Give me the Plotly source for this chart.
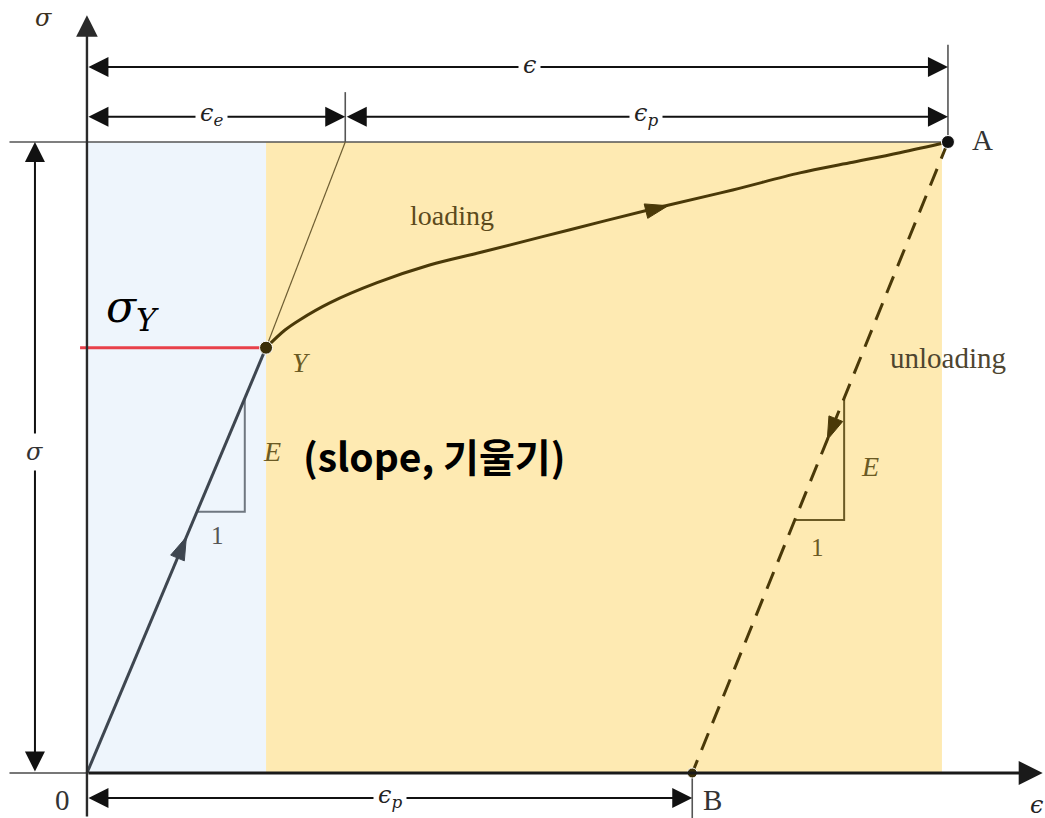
import plotly.graph_objects as go

# Schematic stress-strain path, normalised so that point A sits at (1, 1)
eps_Y, sig_Y = 0.208, 0.674        # yield point Y
eps_A, sig_A = 1.0, 1.0            # end of loading, point A
eps_B = 0.703                      # permanent strain left after unloading, point B
eps_e_top = 0.300                  # where the elastic line would reach sig_A

# strain-hardening curve from Y to A
load_eps = [0.208, 0.230, 0.247, 0.282, 0.337, 0.398, 0.460, 0.561, 0.666,
            0.750, 0.828, 0.886, 0.944, 1.0]
load_sig = [0.674, 0.702, 0.718, 0.745, 0.777, 0.805, 0.826, 0.861, 0.897,
            0.924, 0.951, 0.967, 0.983, 1.0]

fill_end = 0.993                   # right edge of the plastic band

XR = [-0.1010, 1.1127]
YR = [-0.0713, 1.2250]

SERIF = "Liberation Serif"
GREEK = "DejaVu Serif"
BROWN = "#4a3908"
OLIVE = "#6b5a24"

fig = go.Figure()

# elastic / plastic bands
fig.add_shape(type="rect", x0=0, x1=eps_Y, y0=0, y1=sig_A, layer="below",
              line_width=0, fillcolor="#eef5fc")
fig.add_shape(type="rect", x0=eps_Y, x1=fill_end, y0=0, y1=sig_A, layer="below",
              line_width=0, fillcolor="#feeab2")


def seg(x, y, color, width, dash="solid", shape="linear"):
    fig.add_trace(go.Scatter(x=x, y=y, mode="lines", hoverinfo="skip",
                             line=dict(color=color, width=width, dash=dash, shape=shape)))


# reference / extension lines
seg([-0.090, eps_A], [sig_A, sig_A], "#555555", 1.6)
seg([-0.090, 0], [0, 0], "#777777", 2)
seg([eps_A, eps_A], [sig_A, 1.154], "#555555", 1.6)
seg([eps_e_top, eps_e_top], [sig_A, 1.079], "#555555", 1.6)
seg([eps_B, eps_B], [0, YR[0]], "#555555", 1.6)

# slope triangles
E1 = sig_Y / eps_Y
E2 = sig_A / (eps_A - eps_B)
s1, s2 = 0.594, 0.414
seg([s2 / E1, s1 / E1, s1 / E1], [s2, s2, s1], "#6f7780", 2)
r1, r2 = 0.594, 0.401
seg([eps_B + r2 / E2, eps_B + r1 / E2, eps_B + r1 / E2], [r2, r2, r1], OLIVE, 2)

# yield stress marker line
seg([-0.008, eps_Y], [sig_Y, sig_Y], "#e8404a", 3)

# elastic line continued up to sig_A
seg([eps_Y, eps_e_top], [sig_Y, sig_A], "#6e5e32", 1.2)

# elastic loading O -> Y
seg([0, eps_Y], [0, sig_Y], "#3e4650", 3)
# plastic loading Y -> A
seg(load_eps, load_sig, BROWN, 3, shape="spline")
# elastic unloading A -> B
seg([eps_A, eps_B], [sig_A, 0], BROWN, 3, dash="18px,11px")


def head(x0, y0, x1, y1, color, size):
    fig.add_trace(go.Scatter(x=[x0, x1], y=[y0, y1], mode="markers", hoverinfo="skip",
                             marker=dict(symbol="arrow", angleref="previous",
                                         size=[0, size], color=color, opacity=1,
                                         line=dict(width=1, color=color))))


t = 0.555
head(0.45 * eps_Y, 0.45 * sig_Y, t * eps_Y, t * sig_Y, "#3e4650", 24)
head(load_eps[7], load_sig[7], 0.675, 0.899, BROWN, 24)
u = 0.472
head(eps_A - 0.3 * (eps_A - eps_B), 0.7, eps_A - u * (eps_A - eps_B), 1 - u, BROWN, 24)

# points Y, A, B
fig.add_trace(go.Scatter(x=[eps_Y, eps_A, eps_B], y=[sig_Y, sig_A, 0], mode="markers",
                         hoverinfo="skip",
                         marker=dict(size=[13, 13, 10], opacity=1,
                                     color=["#3b2e08", "#111111", "#3b2e08"])))

ann = []


def arrow(x0, y0, x1, y1, width=2, both=True, color="#111111", size=2.0):
    ann.append(dict(x=x1, y=y1, ax=x0, ay=y0, xref="x", yref="y", axref="x", ayref="y",
                    text="", showarrow=True, arrowhead=2, startarrowhead=2,
                    arrowside="end+start" if both else "end",
                    arrowsize=size, startarrowsize=size, arrowwidth=width,
                    arrowcolor=color))


def label(x, y, text, size, color="#222222", family=SERIF, bg=None, style="normal",
          weight="normal", xanchor="center"):
    d = dict(x=x, y=y, xref="x", yref="y", text=text, showarrow=False, xanchor=xanchor,
             font=dict(family=family, size=size, color=color, style=style, weight=weight))
    if bg:
        d.update(bgcolor=bg, borderpad=4)
    ann.append(d)


# axes
arrow(0, YR[0], 0, 1.201, width=2.4, both=False, color="#2a2a2a", size=1.8)
arrow(0, 0, 1.110, 0, width=3, both=False, color="#1a1a1a", size=1.6)

# dimension lines
arrow(0, 1.119, eps_A, 1.119)
arrow(0, 1.040, eps_e_top, 1.040)
arrow(eps_e_top, 1.040, eps_A, 1.040)
arrow(-0.0604, 0, -0.0604, sig_A)
arrow(0, -0.0396, eps_B, -0.0396)

label(0.5145, 1.122, "ϵ", 24, family=GREEK, bg="white", style="italic")
label(0.145, 1.043, "ϵ<sub>e</sub>", 24, family=GREEK, bg="white", style="italic")
label(0.649, 1.043, "ϵ<sub>p</sub>", 24, family=GREEK, bg="white", style="italic")
label(-0.0604, 0.509, "σ", 24, family=GREEK, bg="white", color="#333333", style="italic")
label(0.352, -0.037, "ϵ<sub>p</sub>", 24, family=GREEK, bg="#ffffff", style="italic")

label(-0.0510, 1.1965, "σ", 24, family=GREEK, color="#3a3020", style="italic")
label(1.1127, -0.050, "ϵ", 24, family=GREEK, xanchor="right", style="italic")
label(-0.0279, -0.043, "0", 29, color="#333333")
label(0.726, -0.043, "B", 29, color="#333333")
label(1.040, 1.003, "A", 29, color="#333333")

label(0.249, 0.651, "Y", 28, color=OLIVE, style="italic")
label(0.424, 0.884, "loading", 28, color="#5c4a1c")
label(1.0, 0.658, "unloading", 29, color="#4e4530")
label(0.2149, 0.509, "E", 28, color=OLIVE, style="italic")
label(0.152, 0.377, "1", 25, color="#555555")
label(0.909, 0.485, "E", 28, color=OLIVE, style="italic")
label(0.849, 0.357, "1", 25, color=OLIVE)

label(0.0534, 0.734, "σ<sub>Y</sub>", 44, color="#000000", family=GREEK, style="italic")
label(0.4025, 0.504, "(slope, 기울기)", 39, color="#000000",
      family="Noto Sans CJK KR", weight="bold")

fig.update_layout(
    width=1045, height=818,
    margin=dict(l=0, r=0, t=0, b=0),
    paper_bgcolor="white", plot_bgcolor="white",
    showlegend=False,
    xaxis=dict(range=XR, visible=False, fixedrange=True),
    yaxis=dict(range=YR, visible=False, fixedrange=True),
    annotations=ann,
)

fig.write_html("out.html")
